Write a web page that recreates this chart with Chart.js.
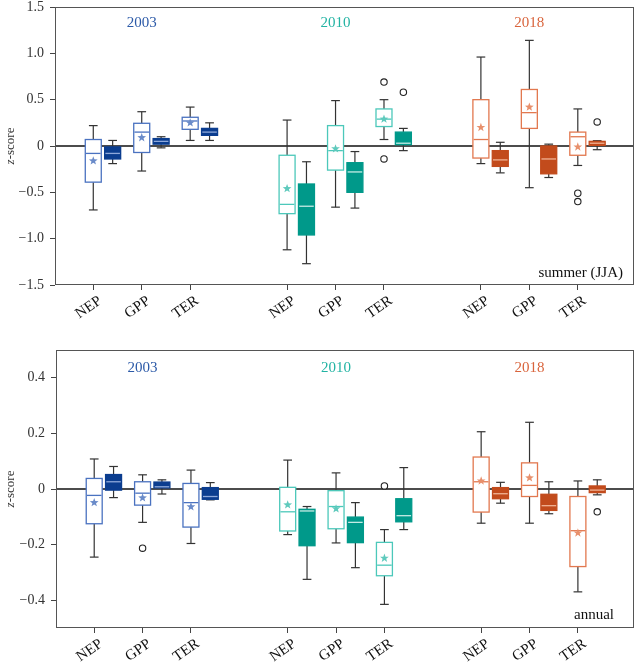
<!DOCTYPE html>
<html>
<head>
<meta charset="utf-8">
<script src="https://cdn.jsdelivr.net/npm/chart.js@4.4.1/dist/chart.umd.min.js"></script>
<style>
body{margin:0;background:#fff;}
#wrap{position:relative;width:640px;height:666px;}
canvas{position:absolute;left:0;}
</style>
</head>
<body>
<div id="wrap">
<canvas id="summer" width="640" height="320" style="top:0"></canvas>
<canvas id="annual" width="640" height="346" style="top:320px"></canvas>
</div>
<script>
const cats = ['NEP', 'GPP', 'TER'];
const years = ['2003', '2010', '2018'];
const positions = [0, 1, 2, 4, 5, 6, 8, 9, 10];
const yTicksSummer = [-1.5, -1.0, -0.5, 0, 0.5, 1.0, 1.5];
const yTicksAnnual = [-0.4, -0.2, 0, 0.2, 0.4];

// [low whisker, q1, median, q3, high whisker]
const summerOpen = [
  [-0.69, -0.39, -0.08, 0.07, 0.22],
  [-0.27, -0.07, 0.15, 0.245, 0.37],
  [0.06, 0.18, 0.27, 0.31, 0.42],
  [-1.12, -0.73, -0.63, -0.10, 0.28],
  [-0.66, -0.26, -0.05, 0.22, 0.49],
  [0.07, 0.21, 0.29, 0.40, 0.50],
  [-0.19, -0.13, 0.07, 0.50, 0.96],
  [-0.45, 0.19, 0.36, 0.61, 1.14],
  [-0.21, -0.10, 0.10, 0.15, 0.40]
];
const summerOpenMean = [-0.16, 0.09, 0.25, -0.46, -0.03, 0.29, 0.20, 0.42, -0.01];
const summerFilled = [
  [-0.19, -0.14, -0.08, -0.01, 0.06],
  [-0.02, 0.02, 0.05, 0.08, 0.10],
  [0.06, 0.115, 0.15, 0.19, 0.25],
  [-1.27, -0.96, -0.65, -0.41, -0.17],
  [-0.67, -0.50, -0.28, -0.18, -0.06],
  [-0.05, 0.015, 0.03, 0.15, 0.19],
  [-0.29, -0.22, -0.15, -0.05, 0.04],
  [-0.34, -0.30, -0.14, 0.00, 0.02],
  [-0.04, 0.007, 0.03, 0.05, 0.057]
];
const summerOpenOut = [[], [], [], [], [], [0.69, -0.14], [], [], [-0.51, -0.60]];
const summerFilledOut = [[], [], [], [], [], [0.58], [], [], [0.26]];

const annualOpen = [
  [-0.245, -0.125, -0.023, 0.038, 0.108],
  [-0.12, -0.058, -0.015, 0.026, 0.051],
  [-0.196, -0.137, -0.049, 0.02, 0.068],
  [-0.164, -0.151, -0.082, 0.006, 0.104],
  [-0.194, -0.143, -0.063, -0.006, 0.058],
  [-0.415, -0.312, -0.274, -0.192, -0.146],
  [-0.123, -0.083, 0.026, 0.115, 0.206],
  [-0.123, -0.027, 0.013, 0.094, 0.24],
  [-0.37, -0.279, -0.15, -0.027, 0.029]
];
const annualOpenMean = [-0.049, -0.032, -0.064, -0.057, -0.071, -0.249, 0.029, 0.04, -0.158];
const annualFilled = [
  [-0.031, -0.004, 0.026, 0.052, 0.081],
  [-0.018, 0.004, 0.008, 0.025, 0.033],
  [-0.039, -0.037, -0.027, 0.005, 0.023],
  [-0.325, -0.204, -0.079, -0.073, -0.063],
  [-0.283, -0.193, -0.12, -0.101, -0.049],
  [-0.146, -0.118, -0.096, -0.035, 0.077],
  [-0.051, -0.035, -0.017, 0.005, 0.024],
  [-0.089, -0.077, -0.06, -0.019, 0.026],
  [-0.021, -0.013, -0.004, 0.011, 0.033]
];
const annualOpenOut = [[], [-0.213], [], [], [], [0.011], [], [], []];
const annualFilledOut = [[], [], [], [], [], [], [], [], [-0.082]];

const filledShift = 0.4;
const boxW = 0.33;
const capW = 0.18;

const yearStyle = [
  { line: '#4a72c0', fill: '#0b3d8f', med: '#8ea8da', star: '#6a8bc9', text: '#2c5aa8' },
  { line: '#4cc8ba', fill: '#00998a', med: '#c4ebe5', star: '#5fcabd', text: '#22b3a3' },
  { line: '#e2784f', fill: '#c24b1c', med: '#f0b294', star: '#e8906c', text: '#d9643c' }
];

const serif = '"Liberation Serif", "DejaVu Serif", serif';

function fmt(v) {
  if (Math.abs(v) < 1e-9) return '0';
  return (v < 0 ? '\u2212' : '') + Math.abs(v).toFixed(1);
}

function line(ctx, x1, y1, x2, y2) {
  ctx.beginPath();
  ctx.moveTo(x1, y1);
  ctx.lineTo(x2, y2);
  ctx.stroke();
}

function drawStar(ctx, cx, cy, r1, r2, color) {
  ctx.beginPath();
  for (let k = 0; k < 10; k++) {
    const r = k % 2 ? r2 : r1;
    const a = -Math.PI / 2 + k * Math.PI / 5;
    ctx.lineTo(cx + r * Math.cos(a), cy + r * Math.sin(a));
  }
  ctx.closePath();
  ctx.fillStyle = color;
  ctx.fill();
}

function drawBox(ctx, xs, ys, p, s, st, filled) {
  const xc = xs.getPixelForValue(p);
  const xl = xs.getPixelForValue(p - boxW / 2);
  const xr = xs.getPixelForValue(p + boxW / 2);
  const cl = xs.getPixelForValue(p - capW / 2);
  const cr = xs.getPixelForValue(p + capW / 2);
  const [lo, q1, med, q3, hi] = s.map(v => ys.getPixelForValue(v));
  ctx.strokeStyle = '#333';
  ctx.lineWidth = 1.2;
  line(ctx, xc, lo, xc, q1);
  line(ctx, xc, q3, xc, hi);
  line(ctx, cl, lo, cr, lo);
  line(ctx, cl, hi, cr, hi);
  ctx.fillStyle = filled ? st.fill : '#fff';
  ctx.fillRect(xl, q3, xr - xl, q1 - q3);
  ctx.strokeStyle = filled ? st.fill : st.line;
  ctx.lineWidth = 1.3;
  ctx.strokeRect(xl, q3, xr - xl, q1 - q3);
  ctx.strokeStyle = filled ? st.med : st.line;
  ctx.lineWidth = 1.3;
  line(ctx, xl + 0.7, med, xr - 0.7, med);
}

const boxPlugin = {
  id: 'boxes',
  beforeDatasetsDraw(chart, args, o) {
    const { ctx, chartArea: a, scales: { x, y } } = chart;
    ctx.save();
    ctx.strokeStyle = '#111';
    ctx.lineWidth = 1.4;
    const y0 = y.getPixelForValue(0);
    line(ctx, a.left, y0, a.right, y0);
    o.open.forEach((s, i) => {
      const st = yearStyle[Math.floor(i / 3)];
      drawBox(ctx, x, y, positions[i], s, st, false);
      drawStar(ctx, x.getPixelForValue(positions[i]), y.getPixelForValue(o.mean[i]), 4.6, 1.9, st.star);
    });
    o.filled.forEach((s, i) => {
      drawBox(ctx, x, y, positions[i] + filledShift, s, yearStyle[Math.floor(i / 3)], true);
    });
    ctx.restore();
  },
  afterDraw(chart, args, o) {
    const { ctx, chartArea: a, scales: { x } } = chart;
    ctx.save();
    ctx.strokeStyle = '#555';
    ctx.lineWidth = 1;
    ctx.strokeRect(a.left + 0.5, a.top + 0.5, a.right - a.left - 1, a.bottom - a.top - 1);
    ctx.font = '15px ' + serif;
    ctx.textAlign = 'center';
    ctx.textBaseline = 'middle';
    years.forEach((yr, g) => {
      ctx.fillStyle = yearStyle[g].text;
      ctx.fillText(yr, x.getPixelForValue(positions[g * 3 + 1]), a.top + o.yearDy);
    });
    ctx.fillStyle = '#111';
    ctx.textAlign = 'right';
    ctx.fillText(o.season, a.right - o.seasonDx, a.bottom - o.seasonDy);
    // y axis title with italic z
    ctx.translate(11, (a.top + a.bottom) / 2);
    ctx.rotate(-Math.PI / 2);
    ctx.textAlign = 'left';
    const fz = 'italic 13px ' + serif, fr = '13px ' + serif;
    ctx.font = fz;
    const wz = ctx.measureText('z').width;
    ctx.font = fr;
    const wr = ctx.measureText('-score').width;
    const x0 = -(wz + wr) / 2;
    ctx.fillStyle = '#333';
    ctx.font = fz;
    ctx.fillText('z', x0, 0);
    ctx.font = fr;
    ctx.fillText('-score', x0 + wz, 0);
    ctx.restore();
  }
};

function outlierPoints(openOut, filledOut) {
  const pts = [];
  openOut.forEach((vs, i) => vs.forEach(v => pts.push({ x: positions[i], y: v })));
  filledOut.forEach((vs, i) => vs.forEach(v => pts.push({ x: positions[i] + filledShift, y: v })));
  return pts;
}

function makeChart(id, cfg) {
  return new Chart(document.getElementById(id), {
    type: 'scatter',
    data: {
      datasets: [{
        data: outlierPoints(cfg.openOut, cfg.filledOut),
        pointStyle: 'circle',
        pointRadius: 3.2,
        pointBorderWidth: 1.1,
        pointBackgroundColor: '#fff',
        pointBorderColor: '#222'
      }]
    },
    options: {
      responsive: false,
      animation: false,
      events: [],
      layout: { padding: { top: cfg.top, right: 6, left: 0, bottom: 0 } },
      plugins: {
        legend: { display: false },
        tooltip: { enabled: false },
        boxes: {
          open: cfg.open, filled: cfg.filled, mean: cfg.mean,
          season: cfg.season, seasonDx: cfg.seasonDx, seasonDy: cfg.seasonDy, yearDy: cfg.yearDy
        }
      },
      scales: {
        x: {
          type: 'linear',
          min: -0.79,
          max: 11.16,
          afterBuildTicks: s => { s.ticks = positions.map(v => ({ value: v })); },
          afterFit: s => { s.height = cfg.xh; s.paddingLeft = 0; s.paddingRight = 0; },
          grid: { drawOnChartArea: false, drawTicks: true, tickLength: 5, color: '#444' },
          border: { display: false },
          ticks: {
            minRotation: 35,
            maxRotation: 35,
            padding: 2,
            labelOffset: 7,
            color: '#111',
            font: { family: serif, size: 15 },
            callback: v => cats[positions.indexOf(v) % 3]
          }
        },
        y: {
          min: cfg.ymin,
          max: cfg.ymax,
          afterBuildTicks: s => { s.ticks = cfg.yTicks.map(v => ({ value: v })); },
          afterFit: s => { s.width = cfg.left; s.paddingTop = 0; s.paddingBottom = 0; },
          grid: { drawOnChartArea: false, drawTicks: true, tickLength: 5, color: '#444' },
          border: { display: false },
          ticks: {
            padding: 6,
            color: '#333',
            font: { family: serif, size: 14 },
            callback: v => fmt(v)
          }
        }
      }
    },
    plugins: [boxPlugin]
  });
}

makeChart('summer', {
  open: summerOpen, filled: summerFilled, mean: summerOpenMean,
  openOut: summerOpenOut, filledOut: summerFilledOut,
  ymin: -1.5, ymax: 1.5, yTicks: yTicksSummer,
  top: 7, left: 55, xh: 35,
  season: 'summer (JJA)', seasonDx: 11, seasonDy: 12, yearDy: 16
});

makeChart('annual', {
  open: annualOpen, filled: annualFilled, mean: annualOpenMean,
  openOut: annualOpenOut, filledOut: annualFilledOut,
  ymin: -0.5, ymax: 0.5, yTicks: yTicksAnnual,
  top: 30, left: 56, xh: 38,
  season: 'annual', seasonDx: 20, seasonDy: 13, yearDy: 18
});
</script>
</body>
</html>
